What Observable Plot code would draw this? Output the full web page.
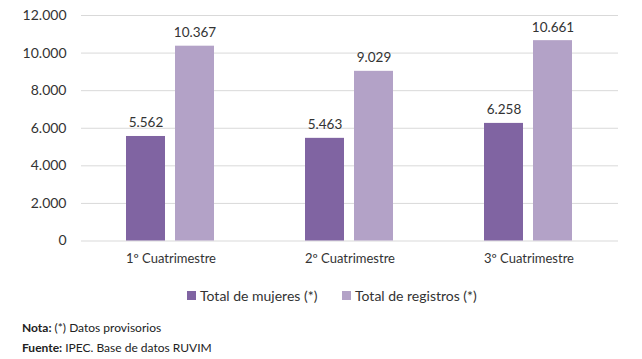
<!DOCTYPE html>
<html>
<head>
<meta charset="utf-8">
<script src="https://cdn.jsdelivr.net/npm/d3@7"></script>
<script src="https://cdn.jsdelivr.net/npm/@observablehq/plot@0.6"></script>
<style>
  html, body { margin: 0; padding: 0; background: #fff; }
  body { width: 642px; height: 359px; position: relative; overflow: hidden; font-family: Lato, "Open Sans", sans-serif; }
  #chart { position: absolute; left: 0; top: 0; }
  #legend { position: absolute; left: 0; top: 287px; width: 642px; height: 16px; font-size: 14px; color: #333; }
  .item { position: absolute; top: 0; display: flex; align-items: center; height: 16px; white-space: nowrap; }
  .sw { width: 9px; height: 9px; margin-right: 4px; display: inline-block; }
  #notes { position: absolute; left: 22px; top: 318px; font-size: 12px; color: #222; line-height: 20px; }
</style>
</head>
<body>
<div id="chart"></div>
<div id="legend"></div>
<div id="notes">
  <div><b>Nota:</b> (*) Datos provisorios</div>
  <div><b>Fuente:</b> IPEC. Base de datos RUVIM</div>
</div>
<script>
const categories = ["1º Cuatrimestre", "2º Cuatrimestre", "3º Cuatrimestre"];
const series = ["Total de mujeres (*)", "Total de registros (*)"];
const mujeres = [5562, 5463, 6258];
const registros = [10367, 9029, 10661];
const yTicks = [0, 2000, 4000, 6000, 8000, 10000, 12000];
const colors = ["#8064a2", "#b3a2c7"];

const data = [];
categories.forEach((c, i) => {
  data.push({cat: c, serie: series[0], value: mujeres[i]});
  data.push({cat: c, serie: series[1], value: registros[i]});
});

const fmt = d => d3.format(",")(d).replace(/,/g, ".");

const chart = Plot.plot({
  width: 642,
  height: 275,
  marginLeft: 80,
  marginRight: 23.5,
  marginTop: 15,
  marginBottom: 34.5,
  style: {fontFamily: "Lato, 'Open Sans', sans-serif", fontSize: "13px", color: "#333", background: "#fff"},
  fx: {domain: categories, padding: 0, axis: "bottom", label: null, tickSize: 0, tickPadding: 13},
  x: {domain: series, paddingInner: 0.2, paddingOuter: 0.9, axis: null},
  y: {domain: [0, 12000], ticks: yTicks, tickFormat: fmt, tickSize: 0, tickPadding: 15, label: null},
  color: {domain: series, range: colors},
  marks: [
    Plot.ruleY(yTicks, {stroke: "#d9d9d9", strokeWidth: 1}),
    Plot.axisY({ticks: yTicks, tickFormat: fmt, tickSize: 0, tickPadding: 15, fontSize: 14, label: null}),
    Plot.barY(data, {fx: "cat", x: "serie", y: "value", fill: "serie"}),
    Plot.text(data, {fx: "cat", x: "serie", y: "value", text: d => fmt(d.value), dy: -9, lineAnchor: "bottom", fill: "#333", fontSize: 13.5})
  ]
});
document.getElementById("chart").appendChild(chart);

const legend = document.getElementById("legend");
const lefts = [187, 342];
series.forEach((s, i) => {
  const it = document.createElement("div");
  it.className = "item";
  it.style.left = lefts[i] + "px";
  const sw = document.createElement("span");
  sw.className = "sw";
  sw.style.background = colors[i];
  const t = document.createElement("span");
  t.textContent = s;
  it.appendChild(sw);
  it.appendChild(t);
  legend.appendChild(it);
});
</script>
</body>
</html>
